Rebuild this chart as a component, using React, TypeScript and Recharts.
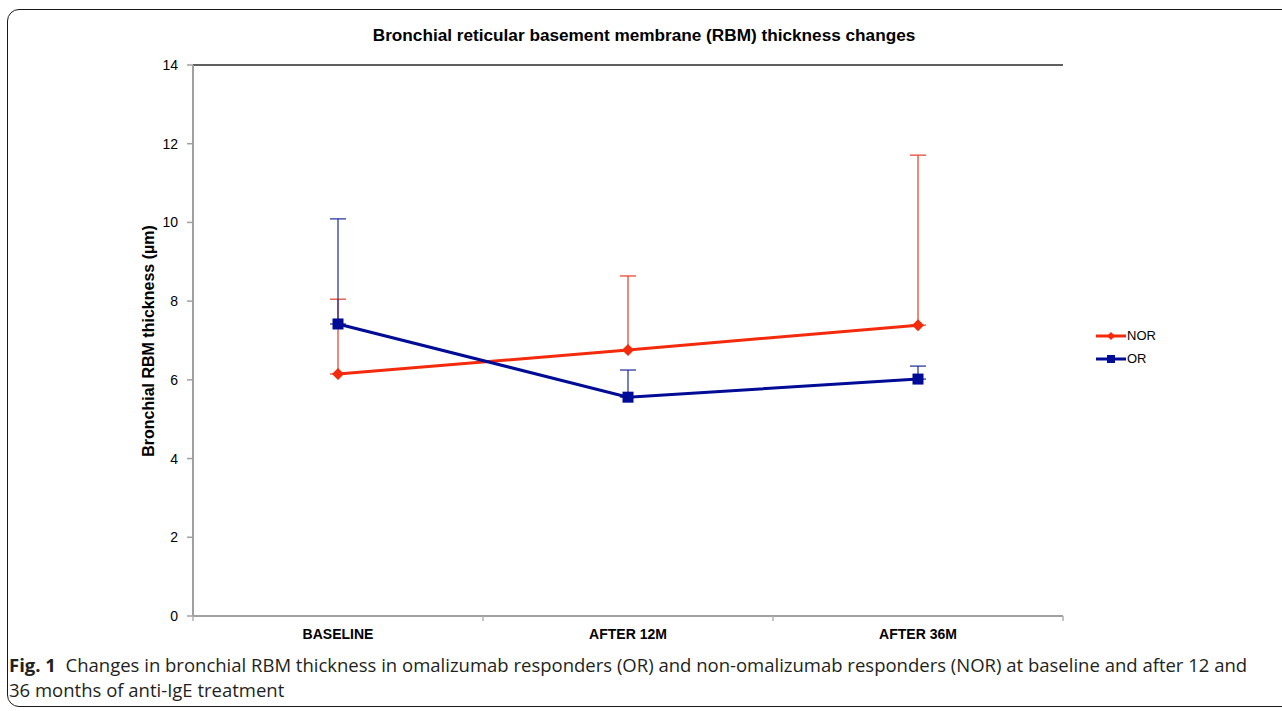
import React from "react";
import { LineChart, Line, XAxis, YAxis, ErrorBar, Legend, ReferenceLine } from "recharts";

const categories = ["BASELINE", "AFTER 12M", "AFTER 36M"];
const norValues = [6.15, 6.76, 7.39];
const norErrUp = [1.9, 1.88, 4.32];
const orValues = [7.42, 5.56, 6.02];
const orErrUp = [2.67, 0.69, 0.33];
const yTicks = [0, 2, 4, 6, 8, 10, 12, 14];

const data = categories.map((c, i) => ({
  cat: c,
  NOR: norValues[i],
  norErr: [0, norErrUp[i]],
  OR: orValues[i],
  orErr: [0, orErrUp[i]],
}));

const FONT = "'Liberation Sans', Arial, Helvetica, sans-serif";
const RED = "#f42a0c";
const BLUE = "#000b96";

const Diamond = (props: any) => {
  const { cx, cy, color } = props;
  const r = 6;
  if (cx == null || cy == null) return null;
  return <path d={`M${cx},${cy - r}L${cx + r},${cy}L${cx},${cy + r}L${cx - r},${cy}Z`} fill={color} stroke="none" />;
};
const Square = (props: any) => {
  const { cx, cy, color } = props;
  const r = 5.5;
  if (cx == null || cy == null) return null;
  return <rect x={cx - r} y={cy - r} width={2 * r} height={2 * r} fill={color} stroke="none" />;
};

const XTick = (props: any) => {
  const { x, y, payload, index, visibleTicksCount } = props;
  const off = payload && payload.offset != null ? payload.offset : 0;
  const lines = [x - off];
  if (index === visibleTicksCount - 1) lines.push(x + off);
  return (
    <g>
      {off
        ? lines.map((lx, i) => (
            <line key={i} x1={lx} x2={lx} y1={y} y2={y + 5} stroke="#b0b0b0" strokeWidth={1.5} />
          ))
        : null}
      <text x={x} y={y + 18} dy="0.355em" textAnchor="middle" fontSize={14} fontWeight="bold" fill="#000" fontFamily={FONT}>
        {payload.value}
      </text>
    </g>
  );
};

const LegendContent = (props: any) => {
  const { payload } = props;
  return (
    <div style={{ fontFamily: FONT, fontSize: 13, color: "#000" }}>
      {(payload || []).map((p: any, i: number) => (
        <div key={i} style={{ display: "flex", alignItems: "center", height: 23 }}>
          <svg width={30} height={10} style={{ marginRight: 1 }}>
            <line x1={0} x2={30} y1={5} y2={5} stroke={p.color} strokeWidth={3} />
            {p.value === "NOR" ? (
              <path d="M15,1L19,5L15,9L11,5Z" fill={p.color} />
            ) : (
              <rect x={11} y={1} width={8} height={8} fill={p.color} />
            )}
          </svg>
          <span>{p.value}</span>
        </div>
      ))}
    </div>
  );
};

export default function App() {
  return (
    <div style={{ position: "fixed", left: 0, top: 0, width: 1282, height: 711, overflow: "hidden", background: "#fff" }}>
      <div
        style={{
          position: "absolute",
          left: 7,
          top: 9,
          width: 1400,
          height: 698,
          border: "1.5px solid #1a1a1a",
          borderRadius: 12,
          boxSizing: "border-box",
        }}
      />
      <div
        style={{
          position: "absolute",
          left: 3,
          top: 25,
          width: 1282,
          textAlign: "center",
          fontFamily: FONT,
          fontWeight: "bold",
          fontSize: 17.2,
          lineHeight: "20px",
          color: "#000",
        }}
      >
        Bronchial reticular basement membrane (RBM) thickness changes
      </div>
      <div
        style={{
          position: "absolute",
          left: 149,
          top: 341,
          transform: "translate(-50%, -50%) rotate(-90deg)",
          whiteSpace: "nowrap",
          fontFamily: FONT,
          fontWeight: "bold",
          fontSize: 16,
          color: "#000",
        }}
      >
        Bronchial RBM thickness (µm)
      </div>
      <div style={{ position: "absolute", left: 0, top: 0 }}>
        <LineChart width={1282} height={711} data={data} margin={{ top: 65, right: 219, bottom: 65, left: 0 }} style={{ fontFamily: FONT }}>
          <XAxis
            dataKey="cat"
            scale="band"
            height={30}
            tickLine={false}
            tickSize={0}
            tickMargin={0}
            axisLine={{ stroke: "#a0a0a0", strokeWidth: 2 }}
            tick={<XTick />}
            interval={0}
          />
          <YAxis
            yAxisId="left"
            width={193}
            domain={[0, 14]}
            ticks={yTicks}
            interval={0}
            tickSize={6}
            tickMargin={9}
            axisLine={{ stroke: "#a0a0a0", strokeWidth: 2 }}
            tickLine={{ stroke: "#a0a0a0", strokeWidth: 1.5 }}
            tick={{ fill: "#000", fontSize: 14, fontFamily: FONT }}
          />
          <YAxis
            yAxisId="right"
            orientation="right"
            width={0}
            domain={[0, 14]}
            tick={false}
            tickLine={false}
            axisLine={{ stroke: "#2a2a2a", strokeWidth: 1.5 }}
          />
          <ReferenceLine yAxisId="left" y={14} stroke="#2a2a2a" strokeWidth={1.5} />
          <Line
            yAxisId="left"
            dataKey="NOR"
            stroke={RED}
            strokeWidth={3}
            dot={<Diamond color={RED} />}
            activeDot={false}
            isAnimationActive={false}
          >
            <ErrorBar dataKey="norErr" direction="y" width={8} stroke="#e83a22" strokeWidth={1.2} />
          </Line>
          <Line
            yAxisId="left"
            dataKey="OR"
            stroke={BLUE}
            strokeWidth={3}
            dot={<Square color={BLUE} />}
            activeDot={false}
            isAnimationActive={false}
          >
            <ErrorBar dataKey="orErr" direction="y" width={8} stroke="#1a2a9a" strokeWidth={1.2} />
          </Line>
          <Legend
            layout="vertical"
            align="center"
            verticalAlign="middle"
            content={<LegendContent />}
            wrapperStyle={{ left: 1096, top: 324, width: 80 }}
          />
        </LineChart>
      </div>
      <div
        style={{
          position: "absolute",
          left: 9,
          top: 652,
          width: 1270,
          whiteSpace: "nowrap",
          fontFamily: "'Open Sans', 'Noto Sans', sans-serif",
          fontSize: 18.5,
          lineHeight: "25px",
          color: "#231f20",
        }}
      >
        <b>Fig. 1</b>&nbsp;&nbsp;Changes in bronchial RBM thickness in omalizumab responders (OR) and non-omalizumab responders (NOR) at baseline and after 12 and
        <br />
        36 months of anti-IgE treatment
      </div>
    </div>
  );
}
